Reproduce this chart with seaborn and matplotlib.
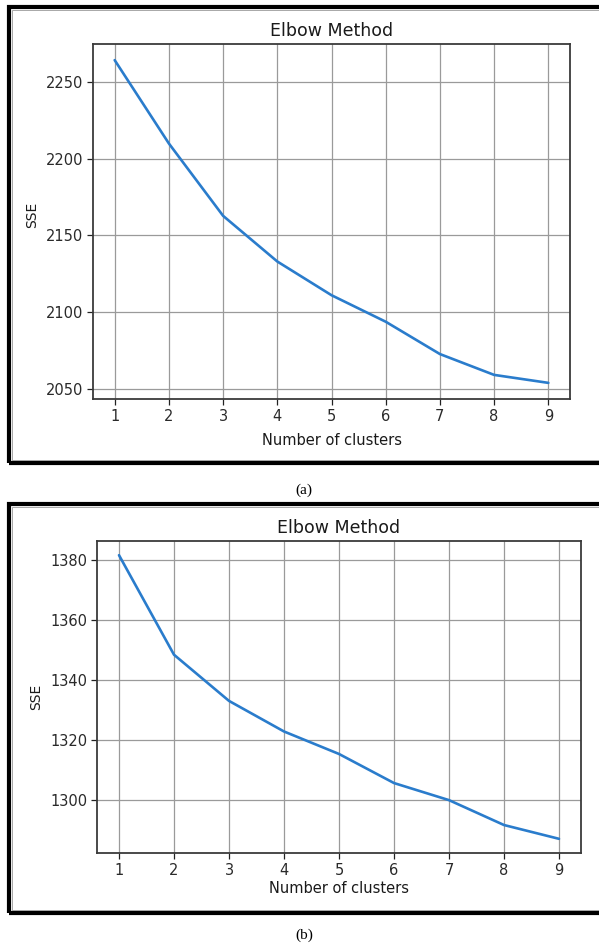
import pandas as pd
import matplotlib
matplotlib.use("Agg")
import matplotlib.pyplot as plt
import seaborn as sns
from matplotlib.patches import Rectangle

# data
clusters = [1, 2, 3, 4, 5, 6, 7, 8, 9]
sse_a = [2264.4, 2210.0, 2162.8, 2133.0, 2111.0, 2093.7, 2072.6, 2059.0, 2053.8]
sse_b = [1381.7, 1348.5, 1333.1, 1322.9, 1315.4, 1305.7, 1300.0, 1291.7, 1287.1]
yticks_a = [2050, 2100, 2150, 2200, 2250]
yticks_b = [1300, 1320, 1340, 1360, 1380]
captions = ["(a)", "(b)"]

sns.set_theme(style="ticks")
plt.rcParams["font.family"] = ["DejaVu Sans"]

W, H = 599, 949
fig = plt.figure(figsize=(W / 100, H / 100), dpi=100)


def px_axes(left, top, right, bottom):
    return fig.add_axes([left / W, 1 - bottom / H, (right - left) / W, (bottom - top) / H])


def draw_panel(ax, values, yticks):
    df = pd.DataFrame({"k": clusters, "sse": values})
    sns.lineplot(data=df, x="k", y="sse", ax=ax, color="#2a7ccc", linewidth=1.9)
    ax.set_xticks(clusters)
    ax.set_yticks(yticks)
    ax.grid(True, color="#9a9a9a", linewidth=0.9)
    ax.set_axisbelow(True)
    for s in ax.spines.values():
        s.set_color("#3a3a3a")
        s.set_linewidth(1.3)
    ax.tick_params(axis="both", labelsize=10.5, colors="#222222", length=4,
                   width=0.9, pad=3, labelcolor="#2a2a2a")
    ax.set_title("Elbow Method", fontsize=12.5, color="#1a1a1a", pad=6)
    ax.set_xlabel("Number of clusters", fontsize=10.5, color="#1a1a1a")
    ax.set_ylabel("SSE", fontsize=10, color="#1a1a1a")


# panel (a)
ax1 = px_axes(93, 44, 570, 399)
draw_panel(ax1, sse_a, yticks_a)
ax1.xaxis.set_label_coords(0.5, -0.095)
ax1.yaxis.set_label_coords(-0.113, 0.52)

# panel (b)
ax2 = px_axes(97, 541, 581, 853)
draw_panel(ax2, sse_b, yticks_b)
ax2.xaxis.set_label_coords(0.5, -0.09)
ax2.yaxis.set_label_coords(-0.111, 0.5)

# black frames around each panel (run off the right edge)
for top, bottom in [(7, 463.5), (504, 913)]:
    fig.add_artist(Rectangle((9 / W, 1 - bottom / H), 620 / W, (bottom - top) / H,
                             transform=fig.transFigure, fill=False,
                             edgecolor="black", linewidth=3.0))
    fig.add_artist(Rectangle((12 / W, 1 - (bottom - 3) / H), 620 / W, (bottom - top - 6) / H,
                             transform=fig.transFigure, fill=False,
                             edgecolor="#9a9a9a", linewidth=0.6))

# captions under the frames
for y, cap in zip([490, 935], captions):
    fig.text(304 / W, 1 - y / H, cap, ha="center", va="center",
             fontsize=11, family=["Liberation Serif", "DejaVu Serif"], color="black")

plt.savefig("out.png", dpi=100)
